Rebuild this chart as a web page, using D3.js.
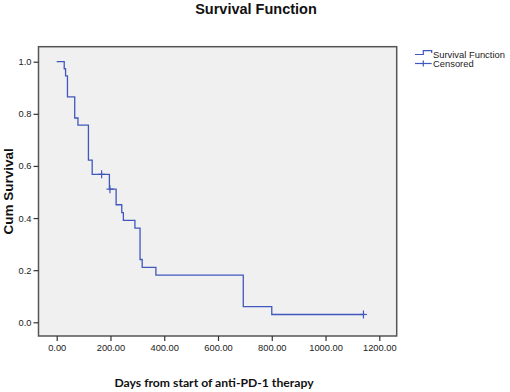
<!DOCTYPE html>
<html>
<head>
<meta charset="utf-8">
<script src="https://cdn.jsdelivr.net/npm/d3@7"></script>
<style>
  body { margin: 0; background: #fff; }
  svg { display: block; }
</style>
</head>
<body>
<div id="chart"></div>
<script>
// Kaplan-Meier steps (days, cumulative survival).
const stepTimes = [0, 28, 33, 40, 67, 79, 118, 132, 196, 221, 242, 248, 291, 310, 318, 369, 694, 800];
const stepSurvival = [1.0, 0.973, 0.946, 0.865, 0.784, 0.757, 0.622, 0.568, 0.511, 0.451, 0.421, 0.391, 0.361, 0.241, 0.211, 0.181, 0.060, 0.030];
const lastTime = 1141;
// Censored observations.
const censorTimes = [167, 198, 1141];
const censorSurvival = [0.568, 0.511, 0.030];
// Axis ticks.
const xTicks = [0, 200, 400, 600, 800, 1000, 1200];
const yTicks = [0, 0.2, 0.4, 0.6, 0.8, 1.0];

const W = 510, H = 392;
const frame = { left: 38.5, right: 396.7, top: 46.7, bottom: 336 };
const lineColor = '#4058bd';

const svg = d3.select('#chart').append('svg').attr('width', W).attr('height', H);

const x = d3.scaleLinear().domain([-67.7, 1264.7]).range([frame.left, frame.right]);
const y = d3.scaleLinear().domain([-0.0526, 1.0576]).range([frame.bottom, frame.top]);

// Plot area background and frame.
svg.append('rect')
  .attr('x', frame.left).attr('y', frame.top)
  .attr('width', frame.right - frame.left).attr('height', frame.bottom - frame.top)
  .attr('fill', '#f0f0f0')
  .attr('stroke', '#555').attr('stroke-width', 1.5);

// Axes (domain line replaced by the frame).
const yAxis = svg.append('g')
  .attr('transform', `translate(${frame.left},0)`)
  .call(d3.axisLeft(y).tickValues(yTicks).tickFormat(d3.format('.1f')).tickSize(5).tickPadding(2));
const xAxis = svg.append('g')
  .attr('transform', `translate(0,${frame.bottom})`)
  .call(d3.axisBottom(x).tickValues(xTicks).tickFormat(d3.format('.2f')).tickSize(5).tickPadding(3));

[yAxis, xAxis].forEach(a => {
  a.select('.domain').remove();
  a.selectAll('line').attr('stroke', '#333').attr('stroke-width', 1.2);
  a.selectAll('text')
    .attr('fill', '#222')
    .style('font-family', 'Arial, "Liberation Sans", sans-serif')
    .style('font-size', '9.3px');
});

// Step curve: horizontal then vertical at each event time.
const pts = [];
stepTimes.forEach((t, i) => {
  if (i > 0) pts.push([t, stepSurvival[i - 1]]);
  pts.push([t, stepSurvival[i]]);
});
pts.push([lastTime, stepSurvival[stepSurvival.length - 1]]);

svg.append('path')
  .datum(pts)
  .attr('fill', 'none')
  .attr('stroke', lineColor)
  .attr('stroke-width', 1.3)
  .attr('d', d3.line().x(d => x(d[0])).y(d => y(d[1])));

// Censor marks as small plus signs.
const censor = svg.append('g').attr('stroke', lineColor).attr('stroke-width', 1.2);
censorTimes.forEach((t, i) => {
  const cx = x(t), cy = y(censorSurvival[i]);
  censor.append('line').attr('x1', cx).attr('x2', cx).attr('y1', cy - 4).attr('y2', cy + 4);
  censor.append('line').attr('x1', cx - 3.5).attr('x2', cx + 3.5).attr('y1', cy).attr('y2', cy);
});

// Title and axis labels.
svg.append('text')
  .attr('x', 256).attr('y', 14)
  .attr('text-anchor', 'middle')
  .style('font-family', 'Arial, "Liberation Sans", sans-serif')
  .style('font-weight', 'bold').style('font-size', '14.5px')
  .attr('fill', '#111')
  .text('Survival Function');

svg.append('text')
  .attr('transform', `translate(12.5,${(frame.top + frame.bottom) / 2}) rotate(-90)`)
  .attr('text-anchor', 'middle')
  .style('font-family', 'Arial, "Liberation Sans", sans-serif')
  .style('font-weight', 'bold').style('font-size', '13.5px')
  .attr('fill', '#111')
  .text('Cum Survival');

svg.append('text')
  .attr('x', 214).attr('y', 387)
  .attr('text-anchor', 'middle')
  .style('font-family', 'Lato, "Open Sans", sans-serif')
  .style('font-weight', 'bold').style('font-size', '12.2px')
  .attr('fill', '#111')
  .text('Days from start of anti-PD-1 therapy');

// Legend.
const legend = svg.append('g').attr('stroke', lineColor).attr('stroke-width', 1.2).attr('fill', 'none');
legend.append('path').attr('d', 'M415,54.5 H423.3 V50.7 H431.7 V53');
legend.append('line').attr('x1', 415).attr('x2', 431.7).attr('y1', 63.5).attr('y2', 63.5);
legend.append('line').attr('x1', 423.3).attr('x2', 423.3).attr('y1', 60.5).attr('y2', 66.5);

const legendText = svg.append('g')
  .style('font-family', 'Arial, "Liberation Sans", sans-serif')
  .style('font-size', '9.4px')
  .attr('fill', '#222');
legendText.append('text').attr('x', 433).attr('y', 57.6).text('Survival Function');
legendText.append('text').attr('x', 433).attr('y', 67.3).text('Censored');
</script>
</body>
</html>
